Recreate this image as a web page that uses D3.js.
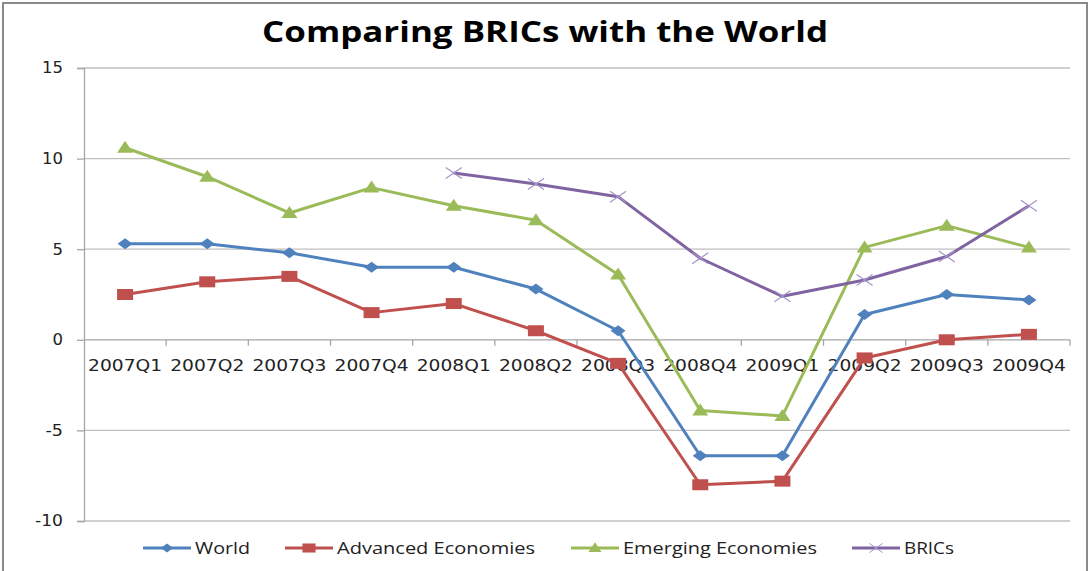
<!DOCTYPE html>
<html lang="en">
<head>
<meta charset="UTF-8">
<script src="https://d3js.org/d3.v7.min.js"></script>
<title>Comparing BRICs with the World</title>
<style>
  body { margin: 0; background: white; }
  svg { display: block; }
  .lbl { font-family: "DejaVu Sans", Verdana, sans-serif; fill: #222; }
  .leg { font-family: "Open Sans", "Liberation Sans", sans-serif; fill: #222; }
</style>
</head>
<body>
<div id="chart"></div>
<script>
// quarters on the x axis
const quarters = ["2007Q1","2007Q2","2007Q3","2007Q4","2008Q1","2008Q2","2008Q3","2008Q4","2009Q1","2009Q2","2009Q3","2009Q4"];
const yTicks = [-10, -5, 0, 5, 10, 15];

// growth values
const world    = [5.3, 5.3, 4.8, 4.0, 4.0, 2.8, 0.5, -6.4, -6.4, 1.4, 2.5, 2.2];
const advanced = [2.5, 3.2, 3.5, 1.5, 2.0, 0.5, -1.3, -8.0, -7.8, -1.0, 0.0, 0.3];
const emerging = [10.6, 9.0, 7.0, 8.4, 7.4, 6.6, 3.6, -3.9, -4.2, 5.1, 6.3, 5.1];
const brics    = [null, null, null, null, 9.2, 8.6, 7.9, 4.5, 2.4, 3.3, 4.6, 7.4];

const series = [
  {name: "World", values: world, color: "#4F81BD", marker: "diamond"},
  {name: "Advanced Economies", values: advanced, color: "#C0504D", marker: "square"},
  {name: "Emerging Economies", values: emerging, color: "#9BBB59", marker: "triangle"},
  {name: "BRICs", values: brics, color: "#8064A2", marker: "x"}
];

const W = 1090, H = 571;
const plotL = 84, plotR = 1070, plotT = 68, plotB = 521;

const svg = d3.select("#chart").append("svg")
  .attr("width", W).attr("height", H);

// outer chart border
svg.append("rect")
  .attr("x", 3).attr("y", 3).attr("width", 1084).attr("height", 580)
  .attr("fill", "white").attr("stroke", "#8a8a8a").attr("stroke-width", 2);

svg.append("text")
  .attr("x", 545).attr("y", 42)
  .attr("text-anchor", "middle")
  .attr("font-family", "Open Sans, DejaVu Sans, sans-serif")
  .attr("font-weight", "bold").attr("font-size", 29)
  .attr("textLength", 566).attr("lengthAdjust", "spacingAndGlyphs")
  .text("Comparing BRICs with the World");

const x = d3.scaleBand().domain(quarters).range([plotL, plotR]).padding(0);
const y = d3.scaleLinear().domain([-10, 15]).range([plotB, plotT]);
const cx = q => x(q) + x.bandwidth() / 2;

// gridlines
svg.append("g").selectAll("line")
  .data(yTicks.filter(d => d !== 0))
  .join("line")
  .attr("x1", plotL).attr("x2", plotR)
  .attr("y1", d => y(d)).attr("y2", d => y(d))
  .attr("stroke", "#bfbfbf").attr("stroke-width", 1.3);

// y axis
const yAxis = svg.append("g").attr("transform", `translate(${plotL},0)`)
  .call(d3.axisLeft(y).tickValues(yTicks).tickSize(7).tickPadding(14)
    .tickFormat(d => String(d)));
yAxis.select(".domain").attr("stroke", "#a6a6a6").attr("stroke-width", 1.3);
yAxis.selectAll(".tick line").attr("stroke", "#a6a6a6").attr("stroke-width", 1.3);
yAxis.selectAll("text").attr("class", "lbl").attr("font-size", 15)
  .attr("textLength", d => String(d).replace("-", "").length * 10.5 + (d < 0 ? 7 : 0))
  .attr("lengthAdjust", "spacingAndGlyphs");

// x axis at zero, ticks between categories
const x0 = y(0);
svg.append("line")
  .attr("x1", plotL).attr("x2", plotR).attr("y1", x0).attr("y2", x0)
  .attr("stroke", "#a6a6a6").attr("stroke-width", 1.3);
svg.append("g").selectAll("line")
  .data(quarters.slice(1).concat(["end"]))
  .join("line")
  .attr("x1", d => d === "end" ? plotR : x(d))
  .attr("x2", d => d === "end" ? plotR : x(d))
  .attr("y1", x0).attr("y2", x0 + 6)
  .attr("stroke", "#a6a6a6").attr("stroke-width", 1.3);
svg.append("g").selectAll("text")
  .data(quarters)
  .join("text")
  .attr("class", "lbl")
  .attr("x", d => cx(d)).attr("y", x0 + 31)
  .attr("text-anchor", "middle").attr("font-size", 15)
  .attr("textLength", 74).attr("lengthAdjust", "spacingAndGlyphs")
  .text(d => d);

// markers are a bit wider than tall, as in the picture
function drawMarker(g, type, color) {
  if (type === "diamond") {
    g.append("path").attr("d", "M0,-5.5L7.5,0L0,5.5L-7.5,0Z").attr("fill", color);
  } else if (type === "square") {
    g.append("rect").attr("x", -8).attr("y", -5.5).attr("width", 16).attr("height", 11).attr("fill", color);
  } else if (type === "triangle") {
    g.append("path").attr("d", "M0,-7L8,5L-8,5Z").attr("fill", color);
  } else {
    g.append("path").attr("d", "M-8,-5.5L8,5.5M-8,5.5L8,-5.5")
      .attr("stroke", "#a593c9").attr("stroke-width", 1.2).attr("fill", "none");
  }
}

const line = d3.line()
  .defined(d => d.v !== null)
  .x(d => cx(d.q)).y(d => y(d.v));

series.forEach(s => {
  const pts = quarters.map((q, i) => ({q: q, v: s.values[i]}));
  svg.append("path").datum(pts)
    .attr("d", line)
    .attr("fill", "none").attr("stroke", s.color)
    .attr("stroke-width", 3).attr("stroke-linejoin", "round");
  svg.append("g").selectAll("g")
    .data(pts.filter(d => d.v !== null))
    .join("g")
    .attr("transform", d => `translate(${cx(d.q)},${y(d.v)})`)
    .each(function() { drawMarker(d3.select(this), s.marker, s.color); });
});

// legend
const legX = [143, 285, 571, 852];
const legW = [55, 198, 194, 50];
series.forEach((s, i) => {
  const g = svg.append("g").attr("transform", `translate(${legX[i]},548)`);
  g.append("line").attr("x1", 0).attr("x2", 48).attr("y1", 0).attr("y2", 0)
    .attr("stroke", s.color).attr("stroke-width", 3);
  const m = g.append("g").attr("transform", "translate(24,0) scale(0.82)");
  drawMarker(m, s.marker, s.color);
  g.append("text").attr("class", "leg")
    .attr("x", 52).attr("y", 6).attr("font-size", 17)
    .attr("textLength", legW[i]).attr("lengthAdjust", "spacingAndGlyphs")
    .text(s.name);
});
</script>
</body>
</html>
